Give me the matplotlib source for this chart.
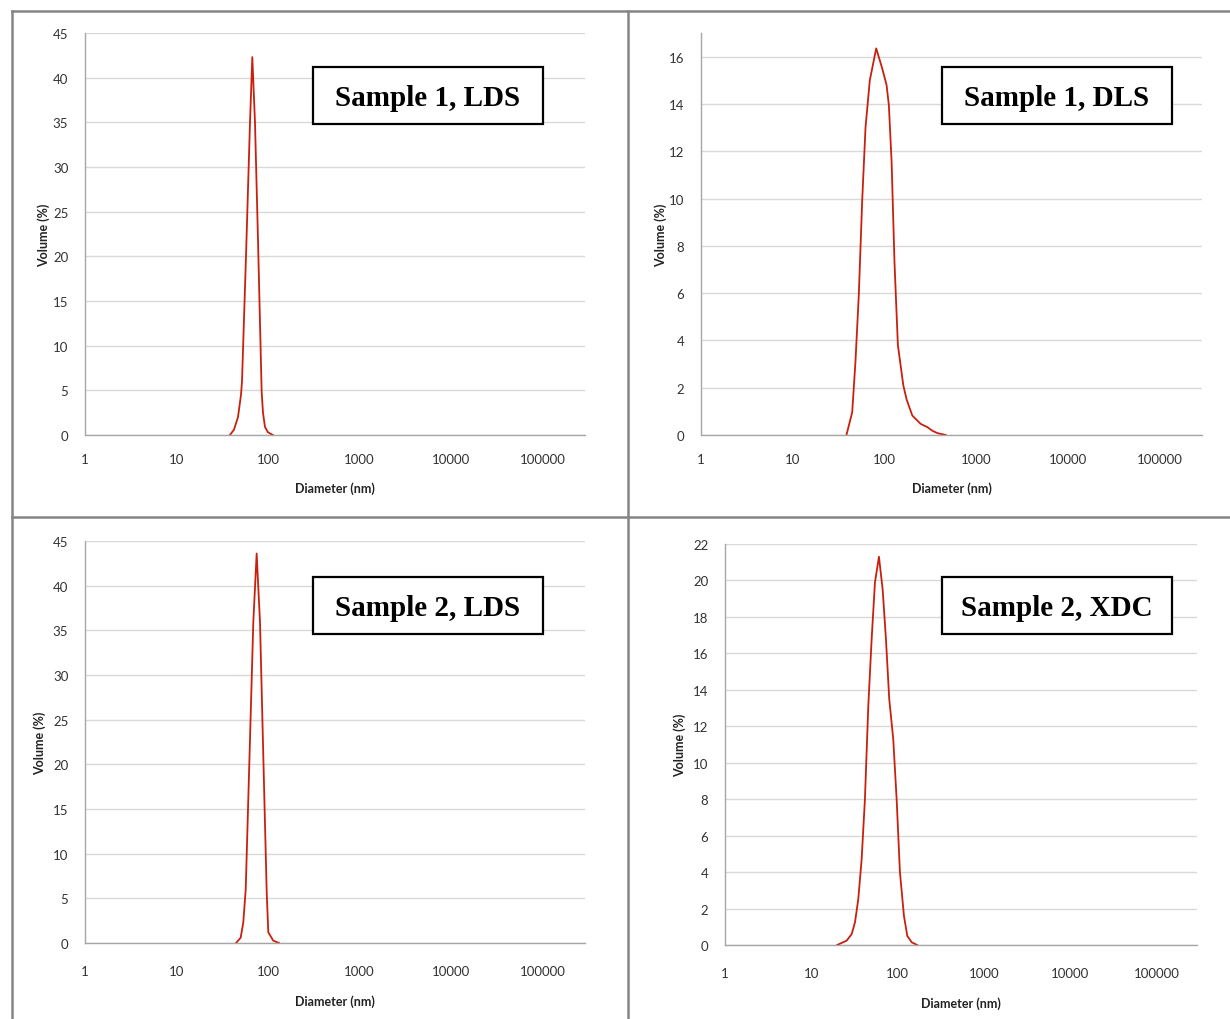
import matplotlib
matplotlib.use("Agg")
import matplotlib.pyplot as plt
from matplotlib.patches import Rectangle
from matplotlib.lines import Line2D
import numpy as np

# ---- particle size distributions (diameter in nm, volume in %) ----
s1_lds_d = [38.4, 42.5, 47.0, 50.7, 52.0, 57.5, 63.6, 67.4, 72.1, 77.7, 85.3, 88.2, 92.7, 100, 113]
s1_lds_v = [0, 0.6, 2.0, 4.5, 6.0, 20.0, 35.0, 42.3, 35.0, 22.0, 4.8, 2.5, 0.9, 0.3, 0]

s1_dls_d = [38.6, 44.6, 48.4, 52.6, 57.3, 62.3, 69.4, 81.5, 94.8, 105.7, 112, 120, 129,
            140.5, 161, 175, 202, 249, 295, 334, 379, 467]
s1_dls_v = [0, 0.96, 3.1, 5.9, 9.9, 13.0, 15.0, 16.35, 15.5, 14.8, 13.95, 11.55, 7.3,
            3.8, 2.1, 1.5, 0.82, 0.47, 0.33, 0.18, 0.08, 0]

s2_lds_d = [44.7, 50.3, 53.7, 57.1, 63.6, 69.1, 75.2, 81.8, 88.9, 96.8, 100.8, 114.3, 132]
s2_lds_v = [0, 0.6, 2.3, 6.0, 22.8, 35.9, 43.6, 35.9, 20.9, 5.7, 1.2, 0.26, 0]

s2_xdc_d = [19.9, 25.6, 29.3, 32.0, 34.9, 38.2, 41.7, 45.6, 49.9, 54.5, 60.6, 66.9, 73.0,
            79.7, 88.7, 97.1, 106, 118, 129, 145, 168]
s2_xdc_v = [0, 0.24, 0.6, 1.25, 2.5, 4.7, 8.0, 13.1, 16.8, 19.9, 21.3, 19.5, 16.8,
            13.5, 11.3, 8.0, 4.0, 1.6, 0.5, 0.15, 0]

x_ticks = [1, 10, 100, 1000, 10000, 100000]
x_tick_labels = ["1", "10", "100", "1000", "10000", "100000"]

W, H = 1230, 1020
fig = plt.figure(figsize=(W / 100, H / 100), dpi=100)
fig.patch.set_facecolor("white")

LINE_COLOR = "#c8200f"
GRID_COLOR = "#d9d9d9"
AXIS_COLOR = "#a6a6a6"
TICK_FONT = ["Lato", "DejaVu Sans"]


def add_panel(px0, py0, px1, py1, d, v, ymax, ystep, title, box,
              xpad=13, xlabpad=12, ylabpad=4):
    ax = fig.add_axes([px0 / W, 1 - py1 / H, (px1 - px0) / W, (py1 - py0) / H])
    ax.plot(d, v, color=LINE_COLOR, lw=1.3, solid_joinstyle="round")
    ax.set_xscale("log")
    ax.set_xlim(1, 10 ** 5.465)
    ax.set_ylim(0, ymax)
    ax.set_xticks(x_ticks)
    ax.set_xticklabels(x_tick_labels)
    ax.minorticks_off()
    ax.set_yticks(np.arange(0, ymax + 0.01, ystep))
    ax.tick_params(length=0, labelsize=9.5, colors="#333333")
    ax.tick_params(axis="x", pad=xpad)
    ax.tick_params(axis="y", pad=12)
    for lbl in ax.get_xticklabels() + ax.get_yticklabels():
        lbl.set_family(TICK_FONT)
    ax.grid(axis="y", color=GRID_COLOR, lw=1.0)
    ax.set_axisbelow(True)
    for side in ("top", "right"):
        ax.spines[side].set_visible(False)
    for side in ("left", "bottom"):
        ax.spines[side].set_color(AXIS_COLOR)
        ax.spines[side].set_linewidth(1.0)
    ax.set_xlabel("Diameter (nm)", fontsize=9, fontweight="bold", family=TICK_FONT,
                  labelpad=xlabpad, color="#222222")
    ax.set_ylabel("Volume (%)", fontsize=9, fontweight="bold", family=TICK_FONT,
                  labelpad=ylabpad, color="#222222")
    # title box
    bx0, by0, bx1, by1 = box
    fig.patches.append(Rectangle((bx0 / W, 1 - by1 / H), (bx1 - bx0) / W, (by1 - by0) / H,
                                 transform=fig.transFigure, facecolor="white",
                                 edgecolor="black", lw=1.6, zorder=5))
    fig.text((bx0 + bx1) / 2 / W, 1 - ((by0 + by1) / 2 + 2) / H, title,
             family=["Liberation Serif", "DejaVu Serif"], fontweight="bold", fontsize=21,
             ha="center", va="center", zorder=6)
    return ax


add_panel(85, 34, 585, 436, s1_lds_d, s1_lds_v, 45, 5, "Sample 1, LDS", (313, 68, 543, 125),
          xpad=13, xlabpad=12, ylabpad=2)
add_panel(701, 34, 1202, 436, s1_dls_d, s1_dls_v, 17, 2, "Sample 1, DLS", (942, 68, 1172, 125),
          xpad=13, xlabpad=12, ylabpad=1)
add_panel(85, 542, 585, 944, s2_lds_d, s2_lds_v, 45, 5, "Sample 2, LDS", (313, 578, 543, 635),
          xpad=16, xlabpad=12, ylabpad=5)
add_panel(725, 545, 1197, 946, s2_xdc_d, s2_xdc_v, 22, 2, "Sample 2, XDC", (942, 578, 1172, 635),
          xpad=16, xlabpad=12, ylabpad=5)

# panel frame lines
BORDER = "#858585"
for (x0, y0, x1, y1) in [(12, 12, 1230, 12), (12, 12, 12, 1020), (628, 12, 628, 1020),
                         (12, 518, 1230, 518)]:
    fig.lines.append(Line2D([x0 / W, x1 / W], [1 - y0 / H, 1 - y1 / H],
                            transform=fig.transFigure, color=BORDER, lw=1.8))

fig.savefig("out.png", dpi=100)
